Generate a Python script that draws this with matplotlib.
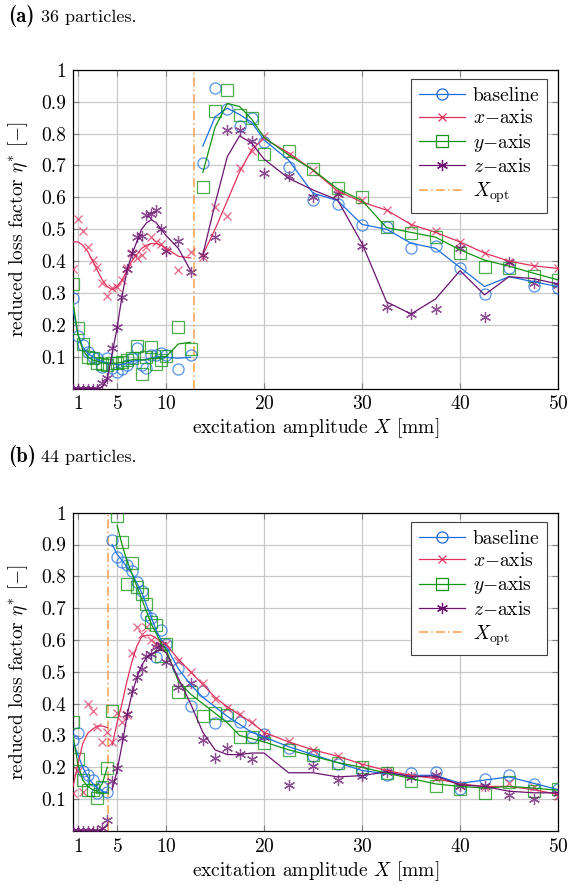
import numpy as np
import matplotlib
matplotlib.use("Agg")
import matplotlib.pyplot as plt
from matplotlib.lines import Line2D

plt.rcParams['font.family'] = ['cmr10', 'DejaVu Serif']
plt.rcParams['mathtext.fontset'] = 'cm'
plt.rcParams['axes.formatter.use_mathtext'] = True
plt.rcParams['font.size'] = 14

nan = np.nan

# excitation amplitudes [mm]
amp = [0.5, 1, 1.5, 2, 2.5, 3, 3.5, 4, 4.5, 5, 5.5, 6, 6.5, 7, 7.5, 8, 8.5, 9, 9.5, 10,
       11.25, 12.5, 13.75, 15, 16.25, 17.5, 18.75, 20,
       22.5, 25, 27.5, 30, 32.5, 35, 37.5, 40, 42.5, 45, 47.5, 50]

# (a) 36 particles
a_xopt = 12.8
a_base = [0.285, 0.165, 0.137, 0.116, 0.10, 0.095, 0.069, 0.095, 0.063, 0.053,
          0.06, 0.074, 0.095, 0.126, 0.074, 0.063, 0.105, 0.105, 0.11, 0.105,
          0.06, 0.105, 0.707, 0.943, 0.877, 0.824, 0.848, 0.775,
          0.696, 0.592, 0.579, 0.513, 0.508, 0.44, 0.448, 0.377, 0.296, 0.377, 0.322, 0.317]
a_base_fit = [0.25, 0.17, 0.13, 0.11, 0.10, 0.09, 0.085, 0.08, 0.078, 0.075,
              0.075, 0.08, 0.085, 0.088, 0.09, 0.092, 0.095, 0.10, 0.10, 0.098,
              0.095, 0.098, 0.761, 0.853, 0.88, 0.86, 0.835, 0.78,
              0.717, 0.613, 0.59, 0.515, 0.50, 0.456, 0.44, 0.38, 0.32, 0.351, 0.335, 0.32]
a_xax = [0.374, 0.531, 0.495, 0.445, 0.403, 0.382, 0.332, 0.290, 0.315, 0.318,
         0.34, 0.377, 0.426, 0.409, 0.42, 0.445, 0.477, 0.461, 0.454, 0.435,
         0.372, 0.43, 0.414, 0.571, 0.542, 0.691, 0.747, 0.793,
         0.733, 0.686, 0.613, 0.592, 0.56, 0.513, 0.495, 0.461, 0.424, 0.398, 0.385, 0.377]
a_xax_fit = [0.46, 0.46, 0.45, 0.43, 0.40, 0.37, 0.34, 0.32, 0.31, 0.32,
             0.34, 0.37, 0.40, 0.42, 0.44, 0.45, 0.455, 0.455, 0.45, 0.44,
             0.415, 0.41, 0.42, 0.50, 0.59, 0.68, 0.75, 0.785,
             0.74, 0.685, 0.62, 0.585, 0.56, 0.515, 0.49, 0.46, 0.425, 0.40, 0.385, 0.377]
a_yax = [0.328, 0.19, 0.14, 0.10, 0.097, 0.08, 0.076, 0.074, 0.08, 0.081,
         0.084, 0.09, 0.095, 0.132, 0.047, 0.10, 0.129, 0.077, 0.09, 0.102,
         0.193, 0.123, 0.632, 0.872, 0.937, 0.859, 0.848, 0.736,
         0.747, 0.688, 0.628, 0.60, 0.508, 0.487, 0.477, 0.426, 0.38, 0.377, 0.353, 0.341]
a_yax_fit = [0.27, 0.17, 0.12, 0.10, 0.09, 0.085, 0.08, 0.08, 0.078, 0.08,
             0.082, 0.086, 0.09, 0.092, 0.09, 0.09, 0.095, 0.095, 0.10, 0.10,
             0.14, 0.145, 0.678, 0.82, 0.895, 0.885, 0.845, 0.788,
             0.733, 0.686, 0.627, 0.59, 0.505, 0.49, 0.475, 0.435, 0.403, 0.384, 0.362, 0.341]
a_zax = [0, 0, 0, 0, 0, 0, 0.016, 0.034, 0.126, 0.192,
         0.288, 0.375, 0.424, 0.475, 0.478, 0.544, 0.548, 0.559, 0.50, 0.432,
         0.463, 0.366, 0.419, 0.477, 0.81, 0.812, 0.778, 0.676,
         0.667, 0.602, 0.61, 0.448, 0.256, 0.234, 0.249, 0.44, 0.224, 0.398, 0.332, 0.325]
a_zax_fit = [0, 0, 0, 0, 0, 0, 0.005, 0.03, 0.11, 0.19,
             0.29, 0.37, 0.42, 0.46, 0.50, 0.52, 0.53, 0.52, 0.50, 0.48,
             0.44, 0.37, 0.42, 0.58, 0.728, 0.793, 0.77, 0.72,
             0.66, 0.623, 0.592, 0.455, 0.272, 0.234, 0.281, 0.37, 0.294, 0.351, 0.345, 0.328]

# (b) 44 particles
b_xopt = 4.1
b_base = [0.286, 0.307, 0.19, 0.176, 0.16, 0.118, 0.137, 0.124,
          0.914, 0.86, 0.844, 0.835, 0.817, 0.783, 0.755, 0.679, 0.668, 0.548, 0.63, 0.587,
          0.511, 0.393, 0.441, 0.34, 0.364, 0.343, 0.294, 0.305,
          0.26, 0.236, 0.21, 0.186, 0.177, 0.181, 0.186, 0.131, 0.162, 0.176, 0.148, 0.131]
b_base_fit = [0.28, 0.24, 0.20, 0.17, 0.15, 0.135, 0.125, 0.12,
              0.90, 0.87, 0.85, 0.83, 0.81, 0.78, 0.75, 0.71, 0.67, 0.63, 0.60, 0.58,
              0.51, 0.46, 0.42, 0.39, 0.36, 0.335, 0.31, 0.295,
              0.265, 0.24, 0.215, 0.19, 0.18, 0.175, 0.175, 0.15, 0.16, 0.17, 0.15, 0.13]
b_xax = [0.118, 0.19, 0.124, 0.40, 0.377, 0.328, 0.281, 0.312,
         0.281, 0.372, 0.342, 0.364, 0.558, 0.642, 0.619, 0.64, 0.60, 0.587, 0.579, 0.587,
         0.535, 0.50, 0.466, 0.416, 0.387, 0.367, 0.343, 0.307,
         0.284, 0.254, 0.236, 0.207, 0.188, 0.173, 0.166, 0.145, 0.139, 0.152, 0.137, 0.11]
b_xax_fit = [0.139, 0.21, 0.275, 0.307, 0.32, 0.33, 0.33, 0.325,
             0.27, 0.34, 0.40, 0.47, 0.53, 0.58, 0.61, 0.615, 0.615, 0.605, 0.595, 0.585,
             0.54, 0.50, 0.46, 0.42, 0.39, 0.365, 0.34, 0.31,
             0.28, 0.255, 0.235, 0.21, 0.19, 0.175, 0.165, 0.148, 0.14, 0.14, 0.13, 0.115]
b_yax = [0.343, 0.227, 0.159, 0.13, 0.129, 0.104, 0.137, 0.197,
         0.378, 0.989, 0.909, 0.776, 0.841, 0.768, 0.743, 0.714, 0.657, 0.648, 0.549, 0.589,
         0.438, 0.438, 0.361, 0.371, 0.364, 0.296, 0.294, 0.277,
         0.254, 0.239, 0.213, 0.202, 0.182, 0.158, 0.141, 0.131, 0.118, 0.155, 0.127, 0.131]
b_yax_fit = [0.30, 0.21, 0.16, 0.14, 0.13, 0.125, 0.15, 0.20,
             nan, 0.96, 0.90, 0.85, 0.81, 0.77, 0.73, 0.69, 0.65, 0.62, 0.59, 0.57,
             0.47, 0.43, 0.40, 0.37, 0.34, 0.30, 0.29, 0.28,
             0.255, 0.235, 0.215, 0.20, 0.182, 0.165, 0.148, 0.14, 0.135, 0.14, 0.135, 0.128]
b_zax = [0, 0, 0, 0, 0, 0, 0.008, 0.035,
         0.158, 0.197, 0.292, 0.367, 0.44, 0.485, 0.51, 0.55, 0.556, 0.579, 0.584, 0.532,
         0.453, 0.466, 0.285, 0.228, 0.26, 0.242, 0.225, 0.296,
         0.145, 0.205, 0.16, 0.173, 0.186, 0.169, 0.176, 0.141, 0.141, 0.113, 0.10, 0.118]
b_zax_fit = [0, 0, 0, 0, 0, 0, 0.004, 0.02,
             0.13, 0.19, 0.27, 0.36, 0.43, 0.48, 0.52, 0.545, 0.555, 0.565, 0.57, 0.56,
             0.48, 0.40, 0.31, 0.255, 0.24, 0.24, 0.245, 0.245,
             0.183, 0.183, 0.17, 0.174, 0.186, 0.17, 0.173, 0.145, 0.14, 0.125, 0.12, 0.12]

c_base = '#1f6fe0'
c_x = '#e0305c'
c_y = '#139413'
c_z = '#6a1470'
c_opt = '#f5a050'

series_style = [
    ('baseline', c_base, 'o', dict(markersize=8, markerfacecolor='none', markeredgewidth=0.9)),
    ('$x$$-$axis', c_x, 'x', dict(markersize=6, markeredgewidth=0.9)),
    ('$y$$-$axis', c_y, 's', dict(markersize=9, markerfacecolor='none', markeredgewidth=0.9)),
    ('$z$$-$axis', c_z, (6, 2, 0), dict(markersize=8, markeredgewidth=0.9)),
]


def draw_panel(ax, xopt, markers, fits):
    x = np.array(amp)
    left = x < xopt
    right = x > xopt
    for (label, col, mk, kw), m, f in zip(series_style, markers, fits):
        f = np.array(f, dtype=float)
        ax.plot(x, m, linestyle='none', marker=mk, color=col, alpha=0.75, zorder=3, **kw)
        ax.plot(x[left], f[left], color=col, lw=0.9, zorder=4)
        ax.plot(x[right], f[right], color=col, lw=0.9, zorder=4)
    ax.axvline(xopt, color=c_opt, lw=1.1, linestyle=(0, (6, 2, 1, 2)), zorder=2)

    ax.set_xlim(0.5, 50)
    ax.set_ylim(0, 1)
    ax.set_xticks([1, 5, 10, 20, 30, 40, 50])
    ax.set_yticks([0.1, 0.2, 0.3, 0.4, 0.5, 0.6, 0.7, 0.8, 0.9, 1])
    ax.set_yticklabels(['0.1', '0.2', '0.3', '0.4', '0.5', '0.6', '0.7', '0.8', '0.9', '1'])
    ax.grid(True, color='#c8c8c8', lw=0.9)
    ax.set_axisbelow(True)
    ax.tick_params(direction='in', top=True, right=True, length=4, color='#808080',
                   labelsize=14, pad=5)
    for s in ax.spines.values():
        s.set_linewidth(0.9)
    ax.set_xlabel('excitation amplitude $X$ [mm]', fontsize=14, labelpad=2)
    ax.set_ylabel(r'reduced loss factor $\eta^{*}$ [' + '$-$' + ']', fontsize=14, labelpad=8)

    handles = [Line2D([], [], color=col, marker=mk, lw=0.9, **kw)
               for label, col, mk, kw in series_style]
    handles.append(Line2D([], [], color=c_opt, lw=1.1, linestyle=(0, (6, 2, 1, 2))))
    labels = [s[0] for s in series_style] + [r'$X_{\mathrm{opt}}$']
    leg = ax.legend(handles, labels, loc='upper right', bbox_to_anchor=(0.978, 0.97),
                    borderaxespad=0, numpoints=1, fancybox=False, framealpha=1,
                    edgecolor='#404040', fontsize=14, handlelength=2.4,
                    handletextpad=0.4, borderpad=0.4, labelspacing=0.22)
    leg.get_frame().set_linewidth(0.8)


fig = plt.figure(figsize=(5.69, 8.85), dpi=100)
ax_a = fig.add_axes([0.1283, 0.561, 0.8524, 0.360])
ax_b = fig.add_axes([0.1283, 0.061, 0.8524, 0.3597])

draw_panel(ax_a, a_xopt, [a_base, a_xax, a_yax, a_zax],
           [a_base_fit, a_xax_fit, a_yax_fit, a_zax_fit])
draw_panel(ax_b, b_xopt, [b_base, b_xax, b_yax, b_zax],
           [b_base_fit, b_xax_fit, b_yax_fit, b_zax_fit])

fig.text(0.014, 1 - 22 / 885, '(a)', family='cmb10', fontsize=15, va='baseline')
fig.text(0.072, 1 - 22 / 885, '36 particles.', fontsize=13, va='baseline')
fig.text(0.014, 1 - 462 / 885, '(b)', family='cmb10', fontsize=15, va='baseline')
fig.text(0.072, 1 - 462 / 885, '44 particles.', fontsize=13, va='baseline')

fig.savefig('out.png', dpi=100)
